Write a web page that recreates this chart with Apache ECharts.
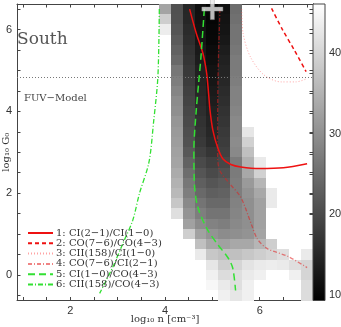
<!DOCTYPE html>
<html>
<head>
<meta charset="utf-8">
<script src="https://cdn.jsdelivr.net/npm/echarts/dist/echarts.min.js"></script>
<style>
  html, body { margin: 0; padding: 0; background: #fff; }
  #chart { width: 341px; height: 327px; }
</style>
</head>
<body>
<div id="chart"></div>
<script>
// axis ranges (cell centres run 1..7 and -0.5..6.5, step 0.25)
var xMin = 0.875, xMax = 7.125
var yMin = -0.625, yMax = 6.625
var cbMin = 9.3, cbMax = 46.1

var xTicks = [1, 1.5, 2, 2.5, 3, 3.5, 4, 4.5, 5, 5.5, 6, 6.5, 7]
var xLabels = [2, 4, 6]
var yTicks = [-0.5, 0, 0.5, 1, 1.5, 2, 2.5, 3, 3.5, 4, 4.5, 5, 5.5, 6, 6.5]
var yLabels = [0, 2, 4, 6]
var cbTicks = [10, 12.5, 15, 17.5, 20, 22.5, 25, 27.5, 30, 32.5, 35, 37.5, 40, 42.5, 45]
var cbLabels = [10, 20, 30, 40]

// heat map: columns log n, rows log G0 (top to bottom)
var heatX = [4.0, 4.25, 4.5, 4.75, 5.0, 5.25, 5.5, 5.75, 6.0, 6.25, 6.5, 6.75, 7.0]
var heatY = [6.5, 6.25, 6.0, 5.75, 5.5, 5.25, 5.0, 4.75, 4.5, 4.25, 4.0, 3.75, 3.5, 3.25, 3.0,
             2.75, 2.5, 2.25, 2.0, 1.75, 1.5, 1.25, 1.0, 0.75, 0.5, 0.25, 0.0, -0.25, -0.5]
var _ = null
var heatRows = [
  [33,   20.8, 14.8, 11.6, 10.0, 11.6, 25,   _,    _,    _,    _,    _,    _],
  [39,   21,   15,   11.8, 10.0, 12,   25.5, _,    _,    _,    _,    _,    _],
  [43.5, 21.5, 15.5, 12,   10.3, 12.3, 26,   _,    _,    _,    _,    _,    _],
  [_,    22.5, 16,   12.5, 10.5, 12.8, 26,   _,    _,    _,    _,    _,    _],
  [_,    23.5, 16.5, 13,   11,   13.5, 26.5, _,    _,    _,    _,    _,    _],
  [_,    24.5, 17,   13.5, 11.5, 14,   27,   _,    _,    _,    _,    _,    _],
  [_,    26.5, 17.5, 14,   12,   14.5, 27,   _,    _,    _,    _,    _,    _],
  [_,    27.5, 18,   14.5, 12.5, 15,   27.5, _,    _,    _,    _,    _,    _],
  [_,    28.5, 18.5, 15,   13,   15.5, 28,   _,    _,    _,    _,    _,    _],
  [_,    29.5, 19,   15.5, 13.5, 16,   28,   _,    _,    _,    _,    _,    _],
  [_,    30,   19.5, 16,   14,   16.5, 28.5, _,    _,    _,    _,    _,    _],
  [_,    31,   20,   16.5, 14.5, 17,   29,   _,    _,    _,    _,    _,    _],
  [_,    31.5, 20.5, 17,   15,   17.5, 29,   42.5, _,    _,    _,    _,    _],
  [_,    32,   21,   17.5, 15.5, 18,   29.5, 39.5, _,    _,    _,    _,    _],
  [_,    32.5, 22,   18.5, 17,   18.5, 29,   37,   _,    _,    _,    _,    _],
  [_,    33,   23.5, 20,   18.5, 19.5, 27,   35,   43,   _,    _,    _,    _],
  [_,    34,   25,   21.5, 20,   21,   27,   33.5, 39.5, _,    _,    _,    _],
  [_,    35,   26.5, 23,   21.5, 22.5, 27.5, 31.5, 35.5, _,    _,    _,    _],
  [_,    36,   27.5, 24.5, 23,   23.5, 27.5, 30.5, 33.5, 43,   _,    _,    _],
  [_,    38,   29,   26,   24.5, 24.5, 28,   30,   32.5, 43,   _,    _,    _],
  [_,    41.5, 30.5, 27.5, 26,   26,   28.5, 30,   32.5, _,    _,    _,    _],
  [_,    _,    32.5, 29.5, 28,   27.5, 29,   30,   32.5, _,    _,    _,    _],
  [_,    _,    39,   32.5, 30.5, 29.5, 30,   30.5, 33,   _,    _,    _,    _],
  [_,    _,    _,    37,   33.5, 32.5, 33.5, 33.5, 35.5, 39,   _,    _,    _],
  [_,    _,    _,    43,   38,   37,   37,   38,   39,   40,   41.5, _,    43],
  [_,    _,    _,    _,    42.5, 39,   40,   42,   43,   43.5, 43,   41.5, 40],
  [_,    _,    _,    _,    44,   41,   41.5, 43,   44,   _,    _,    44,   40],
  [_,    _,    _,    _,    45,   43,   41.5, 44,   _,    _,    _,    _,    41],
  [_,    _,    _,    _,    _,    44,   42.5, 44,   _,    _,    _,    _,    41]
]

// line ratio contours [log n, log G0]
var ci21ci10 = [[4.52, 6.5], [4.66, 5.91], [4.80, 5.42], [4.88, 4.93], [4.92, 4.44], [4.95, 4.03],
  [5.01, 3.54], [5.11, 3.12], [5.22, 2.84], [5.39, 2.70], [5.6, 2.64], [6.0, 2.6], [6.5, 2.62], [7.0, 2.72]]
var co76co43 = [[6.25, 6.52], [6.48, 6.0], [6.73, 5.5], [6.98, 4.97]]
var cii158ci10 = [[5.62, 6.5], [5.65, 5.9], [5.8, 5.34], [6.08, 4.9], [6.45, 4.72], [6.76, 4.72], [7.0, 4.8]]
var co76ci21 = [[5.16, 6.5], [5.12, 4.85], [5.11, 3.01], [5.15, 2.57], [5.36, 2.24], [5.6, 1.9],
  [5.82, 1.25], [5.95, 0.88], [6.15, 0.65], [6.6, 0.45], [7.0, 0.18]]
var ci10co43 = [[4.83, 6.5], [4.76, 5.34], [4.71, 4.69], [4.66, 4.03], [4.61, 3.06], [4.62, 2.24],
  [4.69, 1.67], [4.89, 1.12], [5.13, 0.72], [5.33, 0.42], [5.43, 0.17], [5.49, -0.38]]
var cii158co43 = [[3.88, 6.5], [3.85, 4.85], [3.76, 3.75], [3.66, 2.75], [3.46, 1.99], [3.32, 1.34],
  [3.11, 0.77], [2.90, 0.20], [2.62, -0.45]]

var bestFit = [[5.0, 6.5]]
var fuvG0 = 4.83

var serif = 'DejaVu Serif'
var sans = 'Liberation Sans'

var heatData = []
for (var i = 0; i < heatY.length; i++) {
  for (var j = 0; j < heatX.length; j++) {
    if (heatRows[i][j] != null) heatData.push([heatX[j], heatY[i], heatRows[i][j]])
  }
}

function lineSeries(name, data, color, width, dash) {
  return {
    name: name, type: 'line', data: data, smooth: 0.3, symbol: 'none',
    xAxisIndex: 0, yAxisIndex: 0, z: 3,
    lineStyle: { color: color, width: width, type: dash },
    itemStyle: { color: color }
  }
}

var chart = echarts.init(document.getElementById('chart'))
var frame = { color: '#444', width: 1 }
var option = {
  animation: false,
  backgroundColor: '#fff',
  grid: [
    { left: 17, top: 4, width: 296, height: 296.5, outerBoundsMode: 'none', containLabel: false },
    { left: 313, top: 4, width: 12, height: 296.5, outerBoundsMode: 'none', containLabel: false }
  ],
  visualMap: {
    type: 'continuous', show: false, min: cbMin, max: cbMax, dimension: 2, seriesIndex: 0,
    inRange: { color: ['#000000', '#ffffff'] }
  },
  legend: {
    orient: 'vertical', left: 27, top: 228, padding: 0, itemWidth: 25, itemHeight: 8, itemGap: 0.3,
    itemStyle: { opacity: 0 },
    textStyle: { fontFamily: serif, fontSize: 10, color: '#333', lineHeight: 8, padding: [0, 0, 0, -2] },
    data: ['1: CI(2−1)/CI(1−0)', '2: CO(7−6)/CO(4−3)', '3: CII(158)/CI(1−0)',
           '4: CO(7−6)/CI(2−1)', '5: CI(1−0)/CO(4−3)', '6: CII(158)/CO(4−3)']
  },
  xAxis: [
    {
      type: 'value', gridIndex: 0, min: xMin, max: xMax, position: 'bottom',
      axisLine: { show: true, onZero: false, lineStyle: frame },
      axisTick: { show: true, inside: true, length: 3.5, customValues: xTicks, lineStyle: frame },
      axisLabel: { customValues: xLabels, margin: 5, fontFamily: sans, fontSize: 11, color: '#333' },
      splitLine: { show: false },
      name: 'log₁₀ n [cm⁻³]', nameLocation: 'middle', nameGap: 14, nameMoveOverlap: false,
      nameTextStyle: { fontFamily: serif, fontSize: 10, color: '#333' }
    },
    {
      type: 'value', gridIndex: 0, min: xMin, max: xMax, position: 'top',
      axisLine: { show: true, onZero: false, lineStyle: frame },
      axisTick: { show: true, inside: true, length: 3.5, customValues: xTicks, lineStyle: frame },
      axisLabel: { show: false }, splitLine: { show: false }
    },
    { type: 'value', gridIndex: 1, min: 0, max: 1, show: false }
  ],
  yAxis: [
    {
      type: 'value', gridIndex: 0, min: yMin, max: yMax, position: 'left',
      axisLine: { show: true, onZero: false, lineStyle: frame },
      axisTick: { show: true, inside: true, length: 3.5, customValues: yTicks, lineStyle: frame },
      axisLabel: { customValues: yLabels, margin: 5, fontFamily: sans, fontSize: 11, color: '#333' },
      splitLine: { show: false },
      name: 'log₁₀ G₀', nameLocation: 'middle', nameGap: 6, nameRotate: 90, nameMoveOverlap: false,
      nameTextStyle: { fontFamily: serif, fontSize: 10, color: '#333' }
    },
    {
      type: 'value', gridIndex: 0, min: yMin, max: yMax, position: 'right',
      axisLine: { show: true, onZero: false, lineStyle: frame },
      axisTick: { show: true, inside: true, length: 3.5, customValues: yTicks, lineStyle: frame },
      axisLabel: { show: false }, splitLine: { show: false }
    },
    {
      type: 'value', gridIndex: 1, min: cbMin, max: cbMax, position: 'right',
      axisLine: { show: true, lineStyle: frame },
      axisTick: { show: true, inside: true, length: 3.5, customValues: cbTicks, lineStyle: frame },
      axisLabel: { customValues: cbLabels, margin: 4, fontFamily: sans, fontSize: 11, color: '#333' },
      splitLine: { show: false }
    }
  ],
  series: [
    {
      name: 'chi2', type: 'custom', xAxisIndex: 0, yAxisIndex: 0, z: 1,
      data: heatData, encode: { x: 0, y: 1 },
      renderItem: function (params, api) {
        var x = api.value(0), y = api.value(1)
        var p0 = api.coord([x - 0.125, y + 0.125])
        var p1 = api.coord([x + 0.125, y - 0.125])
        var x0 = Math.round(p0[0]), y0 = Math.round(p0[1])
        return {
          type: 'rect',
          shape: { x: x0, y: y0, width: Math.round(p1[0]) - x0, height: Math.round(p1[1]) - y0 },
          style: { fill: api.visual('color') }
        }
      },
      markLine: {
        silent: true, symbol: 'none', label: { show: false },
        lineStyle: { color: '#777', width: 1, type: [1, 2] },
        data: [{ yAxis: fuvG0 }]
      }
    },
    {
      name: 'colorbar', type: 'custom', xAxisIndex: 2, yAxisIndex: 2, z: 2,
      data: [[0, cbMin, 1, cbMax]],
      renderItem: function (params, api) {
        var p0 = api.coord([api.value(0), api.value(3)])
        var p1 = api.coord([api.value(2), api.value(1)])
        return {
          type: 'rect',
          shape: { x: p0[0], y: p0[1], width: p1[0] - p0[0], height: p1[1] - p0[1] },
          style: {
            fill: new echarts.graphic.LinearGradient(0, 0, 0, 1, [
              { offset: 0, color: '#ffffff' }, { offset: 1, color: '#000000' }
            ]),
            stroke: '#444', lineWidth: 1
          }
        }
      }
    },
    lineSeries('1: CI(2−1)/CI(1−0)', ci21ci10, '#ee1111', 1.5, 'solid'),
    lineSeries('2: CO(7−6)/CO(4−3)', co76co43, '#ee1111', 1.5, [4, 3]),
    lineSeries('3: CII(158)/CI(1−0)', cii158ci10, 'rgba(255,90,90,0.55)', 1, [1, 2]),
    lineSeries('4: CO(7−6)/CI(2−1)', co76ci21, 'rgba(225,30,30,0.55)', 1.3, [4, 2, 1, 2]),
    lineSeries('5: CI(1−0)/CO(4−3)', ci10co43, '#33e033', 1.5, [7, 4]),
    lineSeries('6: CII(158)/CO(4−3)', cii158co43, '#33e033', 1.3, [5, 2, 1, 2]),
    {
      name: 'best', type: 'scatter', xAxisIndex: 0, yAxisIndex: 0, z: 5, clip: false,
      data: bestFit, symbolSize: 21,
      symbol: 'path://M-2,-10.5H2V-2H10.5V2H2V10.5H-2V2H-10.5V-2H-2Z',
      itemStyle: { color: '#e8e8e8', borderColor: '#999', borderWidth: 0.5 }
    }
  ],
  graphic: [
    { type: 'text', left: 17, top: 31, style: { text: 'South', font: '17px "DejaVu Serif"', fill: '#555' } },
    { type: 'text', left: 24, top: 93, style: { text: 'FUV−Model', font: '10px "DejaVu Serif"', fill: '#444' } }
  ]
}
chart.setOption(option)
</script>
</body>
</html>
